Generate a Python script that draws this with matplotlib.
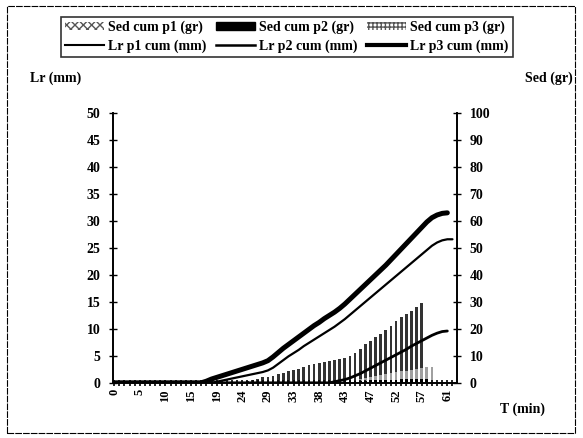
import matplotlib
matplotlib.use("Agg")
import matplotlib.pyplot as plt
from matplotlib.patches import Patch, Rectangle
from matplotlib.lines import Line2D

plt.rcParams['font.family'] = ['Liberation Serif', 'DejaVu Serif']
plt.rcParams['font.weight'] = 'bold'
plt.rcParams['hatch.linewidth'] = 1.0

# Category labels on the time axis (one category per sample, labelled every 5th)
tick_labels = ['0', '5', '10', '15', '19', '24', '29', '33', '38', '43', '47', '52', '57', '61']
n_cat = 67

# Cumulative Lr (mm) for the three plots
lr_p1 = [0]*43 + [0.2, 0.4, 0.6, 0.9, 1.3, 1.7, 2.2, 2.7, 3.2, 3.7, 4.2, 4.7, 5.2, 5.7,
                  6.2, 6.8, 7.3, 7.8, 8.3, 8.8, 9.2, 9.5, 9.6]
lr_p2 = [0]*20 + [0.2, 0.4, 0.6, 0.8, 1.0, 1.2, 1.4, 1.6, 1.8, 2.0, 2.3, 2.8, 3.5, 4.2,
                  4.9, 5.5, 6.1, 6.8, 7.4, 8.0, 8.6, 9.2, 9.8, 10.4, 11.1, 11.8, 12.6,
                  13.4, 14.2, 15.0, 15.8, 16.6, 17.4, 18.2, 19.0, 19.8, 20.6, 21.4, 22.2,
                  23.0, 23.8, 24.6, 25.4, 26.0, 26.4, 26.6, 26.6]
lr_p3 = [0]*18 + [0.3, 0.7, 1.0, 1.3, 1.6, 1.9, 2.2, 2.5, 2.8, 3.1, 3.4, 3.7, 4.1, 4.8,
                  5.6, 6.4, 7.1, 7.8, 8.5, 9.2, 9.9, 10.6, 11.2, 11.9, 12.5, 13.1, 13.8,
                  14.6, 15.5, 16.4, 17.3, 18.2, 19.1, 20.0, 20.9, 21.8, 22.8, 23.8, 24.8,
                  25.8, 26.8, 27.8, 28.8, 29.8, 30.6, 31.1, 31.4, 31.5]

# Cumulative sediment (gr) for the three plots
sed_p1 = [0]*26 + [0.5, 1.0, 1.5, 2.0, 2.2, 2.7, 3.2, 3.7, 4.2, 4.8, 5.3, 5.9, 6.5, 6.9,
                   7.3, 7.7, 8.1, 8.6, 9.0, 9.3, 9.8, 11.0, 12.5, 14.5, 15.5, 17.0, 18.0,
                   19.5, 21.0, 23.0, 24.5, 25.5, 26.5, 28.0, 29.5] + [0]*6
sed_p2 = [0]*44 + [0.3, 0.4, 0.5, 0.6, 0.7, 0.8, 0.9, 1.0, 1.0, 1.1, 1.2, 1.2, 1.3,
                   1.3, 1.4, 1.4, 1.5, 1.5] + [0]*5
sed_p3 = [0]*47 + [1.0, 1.4, 1.8, 2.2, 2.6, 3.0, 3.3, 3.6, 3.9, 4.2, 4.5, 4.8, 5.1,
                   5.4, 5.7, 6.0] + [0]*4

fig = plt.figure(figsize=(5.83, 4.38), dpi=100)
ax = fig.add_axes([0.194, 0.126, 0.590, 0.616])
ax2 = ax.twinx()

x = list(range(n_cat))

# Sediment bars on the right axis
ax2.bar(x[:len(sed_p1)], sed_p1, width=0.55, color='#333333', linewidth=0)
ax2.bar(x[:len(sed_p3)], sed_p3, width=0.55, color='#a0a0a0', linewidth=0)
ax2.bar(x[:len(sed_p2)], sed_p2, width=0.55, color='black', linewidth=0)
ax2.set_ylim(0, 100)
ax2.set_yticks(range(0, 101, 10))

# Lr curves on the left axis (drawn above the bars)
ax.set_zorder(ax2.get_zorder() + 1)
ax.patch.set_visible(False)
ax.plot(range(len(lr_p1)), lr_p1, color='black', lw=2.0, solid_capstyle='round')
ax.plot(range(len(lr_p2)), lr_p2, color='black', lw=1.6, solid_capstyle='round')
ax.plot(range(len(lr_p3)), lr_p3, color='black', lw=3.6, solid_capstyle='round')

ax.set_xlim(-0.2, n_cat - 0.1)
ax.set_ylim(0, 50)
ax.set_yticks(range(0, 51, 5))

labels = [''] * n_cat
for k, lab in enumerate(tick_labels):
    labels[k * 5] = lab
ax.set_xticks(x)
ax.set_xticklabels(labels, rotation=90, fontsize=9, fontweight='bold')

ax.spines['top'].set_visible(False)
ax.spines['right'].set_visible(False)
for side in ('left', 'bottom', 'top'):
    ax2.spines[side].set_visible(False)
for a in (ax, ax2):
    for s in a.spines.values():
        s.set_linewidth(1.4)

ax.tick_params(axis='x', direction='inout', length=5, width=1.2, pad=2)
ax.tick_params(axis='y', direction='inout', length=6, width=1.0, labelsize=10, pad=6)
ax2.tick_params(axis='y', direction='inout', length=6, width=1.0, labelsize=10, pad=6)

fig.text(0.052, 0.822, 'Lr (mm)', fontsize=10, fontweight='bold', ha='left', va='center')
fig.text(0.982, 0.822, 'Sed (gr)', fontsize=10, fontweight='bold', ha='right', va='center')
fig.text(0.935, 0.065, 'T (min)', fontsize=10, fontweight='bold', ha='right', va='center')

# Legend: sediment bars on the first row, Lr curves on the second
handles = [
    Patch(facecolor='white', edgecolor='#555555', hatch='xxxx', linewidth=0),
    Line2D([], [], color='black', lw=1.5),
    Patch(facecolor='black', edgecolor='black'),
    Line2D([], [], color='black', lw=1.8),
    Patch(facecolor='white', edgecolor='#555555', hatch='++++', linewidth=0),
    Line2D([], [], color='black', lw=3.0),
]
names = ['Sed cum p1 (gr)', 'Lr p1 cum (mm)',
         'Sed cum p2 (gr)', 'Lr p2 cum (mm)',
         'Sed cum p3 (gr)', 'Lr p3 cum (mm)']
leg = fig.legend(handles, names, ncol=3, loc='upper center',
                 bbox_to_anchor=(0.492, 0.978), frameon=True, fancybox=False,
                 edgecolor='black', handlelength=2.8, handleheight=0.5,
                 handletextpad=0.3, columnspacing=0.7, labelspacing=0.35,
                 borderpad=0.3, prop={'weight': 'bold', 'size': 10})
leg.get_frame().set_linewidth(1.2)

# Outer frame around the chart
fig.add_artist(Rectangle((0.012, 0.012), 0.975, 0.975, transform=fig.transFigure,
                         fill=False, edgecolor='black', lw=0.8, linestyle=(0, (6, 1))))

fig.savefig('out.png', dpi=100)
